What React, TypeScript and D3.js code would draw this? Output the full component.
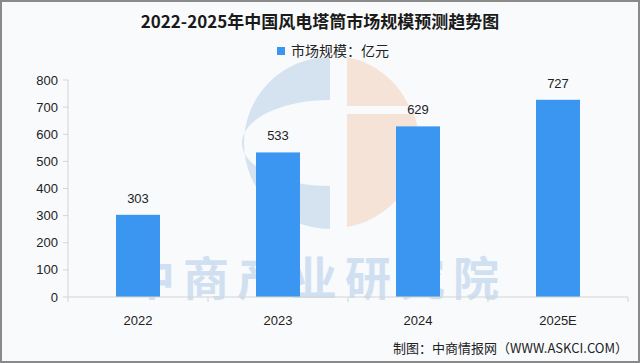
import React from "react";
import * as d3 from "d3";

const categories = ["2022", "2023", "2024", "2025E"];
const values = [303, 533, 629, 727];
const yTicks = [0, 100, 200, 300, 400, 500, 600, 700, 800];
const title = "2022-2025年中国风电塔筒市场规模预测趋势图";
const legendLabel = "市场规模：亿元";
const source = "制图：中商情报网（WWW.ASKCI.COM）";
const watermark = "中商产业研究院";

const W = 640;
const H = 363;
const barColor = "#3a96f0";
const cjk = "'Noto Sans CJK SC', 'Noto Sans', sans-serif";
const num = "'Liberation Sans', Arial, sans-serif";

export default function App() {
  const x = d3.scaleBand<string>().domain(categories).range([68, 628]).paddingInner(0.686).paddingOuter(0.343);
  const y = d3.scaleLinear().domain([0, 800]).range([297, 80]);
  const bw = x.bandwidth();
  const edges = categories.map((c) => (x(c) as number) - (x.step() - bw) / 2).concat([628]);

  // watermark logo geometry
  const cx = 330, cy = 143, r = 86;
  const blueC = `M ${cx} ${cy - r} A ${r} ${r} 0 0 0 ${cx} ${cy + r} L ${cx} ${cy + 43} A 88 43 0 0 1 ${cx} ${cy - 43} Z`;
  const ox = 347;
  const orangeTop = `M ${ox} ${cy - r} A ${r} ${r} 0 0 1 ${ox + 62} ${cy - 37} L ${ox} ${cy - 37} Z`;
  const orangeBot = `M ${ox} ${cy - 29} L ${ox + 67} ${cy - 29} A ${r} ${r} 0 0 1 ${ox} ${cy + r - 2} Z`;

  return (
    <svg width={W} height={H} style={{ position: "absolute", left: 0, top: 0 }}>
      <rect x={0} y={0} width={W} height={H} fill="#f9fafc" />
      <rect x={1} y={1} width={W - 2} height={H - 2} fill="none" stroke="#8a8a8a" strokeWidth={2} />
      {/* watermark */}
      <g opacity={0.75}>
        <path d={blueC} fill="#c9dcee" />
        <path d={orangeTop} fill="#f6dccd" />
        <path d={orangeBot} fill="#f6dccd" />
        <text x={318} y={295} textAnchor="middle" fontFamily={cjk} fontWeight="bold" fontSize={46} fill="#c3d8ee" letterSpacing={8}>
          {watermark}
        </text>
      </g>
      <text x={320} y={28} textAnchor="middle" fontFamily={cjk} fontWeight="bold" fontSize={17} fill="#1a1a1a">
        {title}
      </text>
      <rect x={277} y={47} width={8} height={8} fill={barColor} />
      <text x={291} y={56} fontFamily={cjk} fontSize={14} fill="#222">
        {legendLabel}
      </text>
      {/* y axis */}
      <line x1={68} x2={68} y1={y(800)} y2={y(0)} stroke="#d4d4d4" />
      {yTicks.map((t) => (
        <g key={t}>
          <line x1={63} x2={68} y1={y(t)} y2={y(t)} stroke="#d4d4d4" />
          <text x={58} y={y(t) + 4.5} textAnchor="end" fontFamily={num} fontSize={13} fill="#222">
            {t}
          </text>
        </g>
      ))}
      {/* bars */}
      {categories.map((c, i) => (
        <g key={c}>
          <rect x={x(c)} y={y(values[i])} width={bw} height={y(0) - y(values[i])} fill={barColor} />
          <text x={(x(c) as number) + bw / 2} y={y(values[i]) - 12} textAnchor="middle" fontFamily={num} fontSize={13} fill="#222">
            {values[i]}
          </text>
          <text x={(x(c) as number) + bw / 2} y={325} textAnchor="middle" fontFamily={num} fontSize={13} fill="#222">
            {c}
          </text>
        </g>
      ))}
      {/* x axis */}
      <line x1={68} x2={628} y1={297} y2={297} stroke="#d4d4d4" />
      {edges.map((e, i) => (
        <line key={i} x1={e} x2={e} y1={297} y2={302} stroke="#d4d4d4" />
      ))}
      <text x={628} y={353} textAnchor="end" fontFamily={cjk} fontSize={13} fill="#222">
        {source}
      </text>
    </svg>
  );
}
